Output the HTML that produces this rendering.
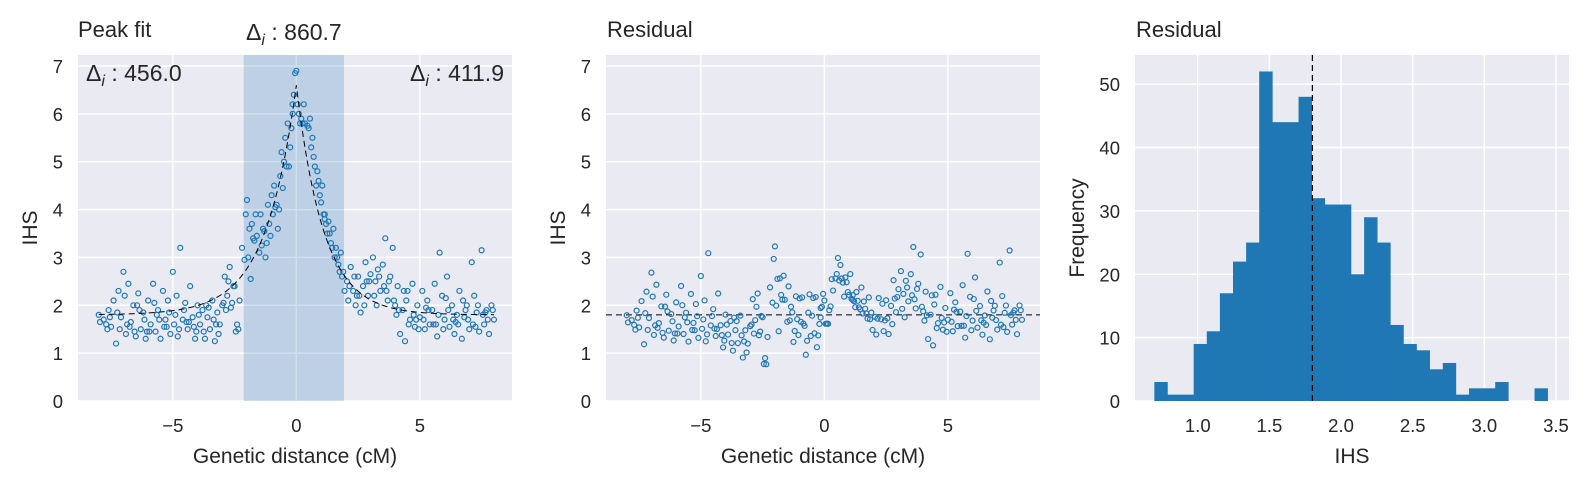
<!DOCTYPE html>
<html><head><meta charset="utf-8">
<style>
html,body{margin:0;padding:0;background:#fff;}
svg{display:block;font-family:"Liberation Sans","DejaVu Sans",sans-serif;}
</style></head>
<body>
<svg id="fig" width="1590" height="488" viewBox="0 0 1590 488" xmlns="http://www.w3.org/2000/svg"></svg>
<script>
// ---- data ----
const peakX = [-8.0,-7.8,-7.7,-7.6,-7.5,-7.4,-7.3,-7.2,-7.1,-7.0,-6.9,-6.8,-6.7,-6.6,-6.5,-6.4,-6.3,-6.2,-6.1,-6.0,-5.9,-5.8,-5.7,-5.6,-5.5,-5.4,-5.3,-5.2,-5.1,-5.0,-4.9,-4.8,-4.7,-4.6,-4.5,-4.4,-4.3,-4.2,-4.1,-4.0,-3.9,-3.8,-3.7,-3.6,-3.5,-3.4,-3.3,-3.2,-3.1,-3.0,-2.9,-2.8,-2.7,-2.6,-2.55,-2.5,-2.45,-2.4,-2.35,-2.3,
-2.2,-2.1,-2.05,-2.0,-1.95,-1.9,-1.85,-1.8,-1.7,-1.6,-1.5,-1.45,-1.4,-1.3,-1.2,-1.1,-1.0,-0.95,-0.9,-0.8,-0.7,-0.65,-0.6,-0.55,-0.5,-0.45,-0.4,-0.35,-0.3,-0.25,-0.2,-0.15,-0.1,-0.05,0.0,0.05,0.1,0.2,0.25,0.35,0.45,0.5,0.6,0.7,0.8,0.9,1.0,1.05,1.1,1.2,1.25,1.3,1.4,1.5,1.55,1.6,1.7,1.8,1.9,1.95,
2.05,2.1,2.2,2.3,2.4,2.5,2.6,2.7,2.8,2.9,3.0,3.1,3.2,3.3,3.4,3.5,3.6,3.7,3.8,3.9,4.0,4.1,4.2,4.3,4.4,4.5,4.6,4.7,4.8,4.9,5.0,5.1,5.2,5.3,5.4,5.5,5.6,5.7,5.8,5.9,6.0,6.1,6.2,6.3,6.4,6.5,6.6,6.7,6.8,6.9,7.0,7.1,7.2,7.3,7.4,7.5,7.6,7.7,7.8,7.9,8.0,
-7.65,-7.25,-6.85,-6.45,-6.05,-5.65,-5.25,-4.85,-4.45,-4.05,-3.65,-3.25,-2.85,2.45,2.85,3.25,3.65,4.05,4.45,4.85,5.25,5.65,6.05,6.45,6.85,7.25,7.65,-0.75,0.75,-1.25,1.15,
-7.95,-7.55,-7.15,-6.95,-6.75,-6.55,-6.35,-6.15,-5.95,-5.75,-5.55,-5.35,-5.15,-4.95,-4.75,-4.55,-4.35,-4.15,-3.95,-3.75,-3.55,-3.35,-3.15,-2.95,-2.75,-2.65,
-1.75,-1.65,-1.35,-1.15,-1.05,-0.85,-0.15,0.15,0.3,0.55,0.65,0.85,0.95,1.15,1.35,1.45,1.65,1.75,1.85,
2.15,2.35,2.55,2.75,2.95,3.15,3.35,3.55,3.75,3.95,4.15,4.35,4.55,4.75,4.95,5.15,5.35,5.55,5.75,5.95,6.15,6.35,6.55,6.75,6.95,7.15,7.35,7.55,7.75,7.95];
const peakY = [1.8,1.7,1.6,1.9,1.55,2.1,1.2,2.3,1.75,2.7,1.4,2.45,1.65,2.0,1.35,2.25,1.5,1.85,1.3,2.1,1.6,2.45,1.45,1.9,1.3,2.3,1.7,2.1,1.4,2.7,1.8,1.35,3.2,1.7,2.05,1.5,2.4,1.75,1.3,2.0,1.6,1.9,1.3,1.75,1.5,2.1,1.25,1.85,1.6,2.0,2.6,2.2,2.8,2.05,2.4,2.4,1.45,1.6,1.5,2.1,
3.2,2.95,3.9,4.2,3.0,3.6,2.55,3.7,3.35,3.45,3.1,3.9,3.25,3.55,3.3,3.7,4.3,3.9,4.5,4.1,4.0,4.7,5.2,4.45,5.0,5.5,4.9,5.8,4.9,5.3,5.7,6.0,6.4,6.85,6.9,6.2,6.0,5.9,5.8,5.8,5.75,5.7,5.3,5.1,4.5,4.6,4.15,4.5,3.9,3.7,3.5,3.75,3.3,3.6,3.0,3.2,2.85,3.1,2.7,2.3,
2.5,2.1,2.8,2.3,2.0,2.6,1.85,2.4,2.9,2.2,2.65,3.0,2.5,2.75,2.3,2.85,3.4,2.1,2.6,3.2,2.0,2.4,1.4,1.9,1.25,2.3,1.7,2.45,1.55,2.0,1.75,2.3,1.5,2.1,1.6,1.9,2.45,1.35,3.1,2.2,1.7,2.6,1.55,2.0,1.4,1.8,2.3,1.3,1.75,2.0,1.5,2.9,2.2,1.85,1.45,3.15,1.6,1.9,1.4,2.0,1.7,
1.5,1.85,1.6,2.0,1.45,1.8,1.55,2.2,1.65,1.45,2.0,1.6,1.9,2.2,2.5,2.0,2.3,1.8,2.1,1.7,1.95,1.6,2.15,1.65,1.9,1.55,1.85,3.6,4.9,3.0,3.9,
1.65,1.75,1.5,2.2,1.55,1.45,1.9,1.7,1.45,2.05,1.7,1.55,1.85,1.6,1.5,1.9,1.65,1.55,1.8,1.45,1.95,1.7,1.4,2.05,2.5,1.95,
3.4,3.9,3.6,4.1,3.45,4.05,6.2,5.8,6.2,5.9,5.5,4.8,4.3,3.8,3.5,3.2,3.0,2.7,2.6,
2.4,2.6,2.2,2.0,2.5,2.2,2.6,2.4,2.5,2.1,1.9,2.3,1.6,1.8,1.5,1.7,1.9,1.6,1.8,1.5,1.9,1.7,1.6,2.1,1.7,1.6,2.0,1.8,1.7,1.9];
const fitBaseline = 1.8;
const fitAmp = 4.8;
const fitDecayLeft = 1.25;
const fitDecayRight = 1.1;
const spanLeft = -2.13;
const spanRight = 1.93;
const deltaLabels = ["456.0","860.7","411.9"];
const histCounts = [3,1,1,9,11,17,22,25,52,44,44,48,32,31,31,20,29,25,12,9,8,5,6,1,2,2,3,0,0,2];
const histStart = 0.697;
const histBinWidth = 0.0915;
const histMarker = 1.8;
const scatterXTicks = [-5,0,5];
const scatterYTicks = [0,1,2,3,4,5,6,7];
const histXTicks = [1.0,1.5,2.0,2.5,3.0,3.5];
const histYTicks = [0,10,20,30,40,50];

// ---- drawing ----
const NS = "http://www.w3.org/2000/svg";
const svg = document.getElementById('fig');
function mk(tag, attrs, parent){
  const e = document.createElementNS(NS, tag);
  for (const k in attrs) e.setAttribute(k, attrs[k]);
  (parent||svg).appendChild(e);
  return e;
}
function fit(x){ return fitBaseline + fitAmp*Math.exp(-Math.abs(x)/(x<0?fitDecayLeft:fitDecayRight)); }

const TOP = 55, BOT = 401, W = 434;
const TICK = 18.5, LAB = 21;
function makeAxes(left, xmin, xmax, ymin, ymax, xt, yt, xfmt, yfmt, name){
  const g = mk('g', {});
  
  
  const sx = v => left + (v - xmin)/(xmax - xmin)*W;
  const sy = v => BOT - (v - ymin)/(ymax - ymin)*(BOT - TOP);
  const bg = mk('rect', {x:left, y:TOP, width:W, height:BOT-TOP, fill:'#EAEAF2'}, g);
  
  
  xt.forEach(v => {
    const X = sx(v);
    const l = mk('line', {x1:X, x2:X, y1:TOP, y2:BOT, stroke:'#fff', 'stroke-width':1.5}, g);
    
    
    const t = mk('text', {x:X, y:432, 'text-anchor':'middle', 'font-size':TICK, fill:'#262626'}, g);
    
    
    t.textContent = xfmt(v);
  });
  yt.forEach(v => {
    const Y = sy(v);
    const l = mk('line', {x1:left, x2:left+W, y1:Y, y2:Y, stroke:'#fff', 'stroke-width':1.5}, g);
    
    
    const t = mk('text', {x:left-15, y:Y+7, 'text-anchor':'end', 'font-size':TICK, fill:'#262626'}, g);
    
    
    t.textContent = yfmt(v);
  });
  return {g, sx, sy};
}
function label(x, y, txt, size, anchor, rot, name){
  const a = {x, y, 'font-size':size, fill:'#262626', 'text-anchor':anchor||'start'};
  if (rot) a.transform = `rotate(-90 ${x} ${y})`;
  const t = mk('text', a);
  
  
  t.textContent = txt;
  return t;
}
function deltaText(x, y, val, anchor, name){
  const t = mk('text', {x, y, 'font-size':23, fill:'#262626', 'text-anchor':anchor});
  
  
  const a = mk('tspan', {}, t); a.textContent = 'Δ';
  const b = mk('tspan', {dy:5, 'font-size':16, 'font-style':'italic'}, t); b.textContent = 'i';
  const c = mk('tspan', {dy:-5}, t); c.textContent = ' : ' + val;
}
const intfmt = v => v < 0 ? '\u2212' + Math.abs(v) : String(v);
const fixed1 = v => v.toFixed(1);

// Panel 1
const p1 = makeAxes(78, -8.84, 8.73, 0, 7.23, scatterXTicks, scatterYTicks, intfmt, intfmt, 'peak-fit-panel');
const span = mk('rect', {x:p1.sx(spanLeft), y:TOP, width:p1.sx(spanRight)-p1.sx(spanLeft), height:BOT-TOP, fill:'#1f77b4', 'fill-opacity':0.22}, p1.g);


let d = '';
for (let i = 0; i <= 320; i++){
  const x = -8 + 16*i/320;
  d += (i ? 'L' : 'M') + p1.sx(x).toFixed(2) + ',' + p1.sy(fit(x)).toFixed(2);
}
peakX.forEach((x, i) => {
  const c = mk('circle', {cx:p1.sx(x), cy:p1.sy(peakY[i]), r:2.5, fill:'none', stroke:'#1f77b4', 'stroke-width':1.2}, p1.g);
  
  
});
const fl = mk('path', {d, fill:'none', stroke:'#000', 'stroke-width':1, 'stroke-dasharray':'6,4'}, p1.g);


label(78, 37, 'Peak fit', 22, 'start', false, 'peak-fit-title');
deltaText(p1.sx((spanLeft+spanRight)/2), 40, deltaLabels[1], 'middle', 'center-delta-label');
deltaText(86, 81, deltaLabels[0], 'start', 'left-delta-label');
deltaText(504, 81, deltaLabels[2], 'end', 'right-delta-label');
label(295, 463, 'Genetic distance (cM)', LAB, 'middle', false, 'x-axis-title');
label(37, 228, 'IHS', LAB, 'middle', true, 'y-axis-title');

// Panel 2
const p2 = makeAxes(606, -8.84, 8.73, 0, 7.23, scatterXTicks, scatterYTicks, intfmt, intfmt, 'residual-scatter-panel');
const hl = mk('line', {x1:606, x2:606+W, y1:p2.sy(histMarker), y2:p2.sy(histMarker), stroke:'#000', 'stroke-width':1, 'stroke-dasharray':'6,4'}, p2.g);


peakX.forEach((x, i) => {
  const r = peakY[i] - fit(x) + fitBaseline;
  const c = mk('circle', {cx:p2.sx(x), cy:p2.sy(r), r:2.5, fill:'none', stroke:'#1f77b4', 'stroke-width':1.2}, p2.g);
  
  
});
label(607, 37, 'Residual', 22, 'start', false, 'residual-title');
label(823, 463, 'Genetic distance (cM)', LAB, 'middle', false, 'x-axis-title-2');
label(565, 228, 'IHS', LAB, 'middle', true, 'y-axis-title-2');

// Panel 3
const p3 = makeAxes(1135, 0.562, 3.591, 0, 54.6, histXTicks, histYTicks, fixed1, intfmt, 'histogram-panel');
histCounts.forEach((c, i) => {
  if (!c) return;
  const x0 = p3.sx(histStart + i*histBinWidth), x1 = p3.sx(histStart + (i+1)*histBinWidth);
  const r = mk('rect', {x:x0, y:p3.sy(c), width:x1-x0+0.3, height:BOT-p3.sy(c), fill:'#1f77b4'}, p3.g);
  
  
});
const vl = mk('line', {x1:p3.sx(histMarker), x2:p3.sx(histMarker), y1:TOP, y2:BOT, stroke:'#000', 'stroke-width':1.2, 'stroke-dasharray':'6,4'}, p3.g);


label(1136, 37, 'Residual', 22, 'start', false, 'histogram-title');
label(1352, 463, 'IHS', LAB, 'middle', false, 'x-axis-title-3');
label(1084, 228, 'Frequency', LAB, 'middle', true, 'y-axis-title-3');
</script>
</body></html>
